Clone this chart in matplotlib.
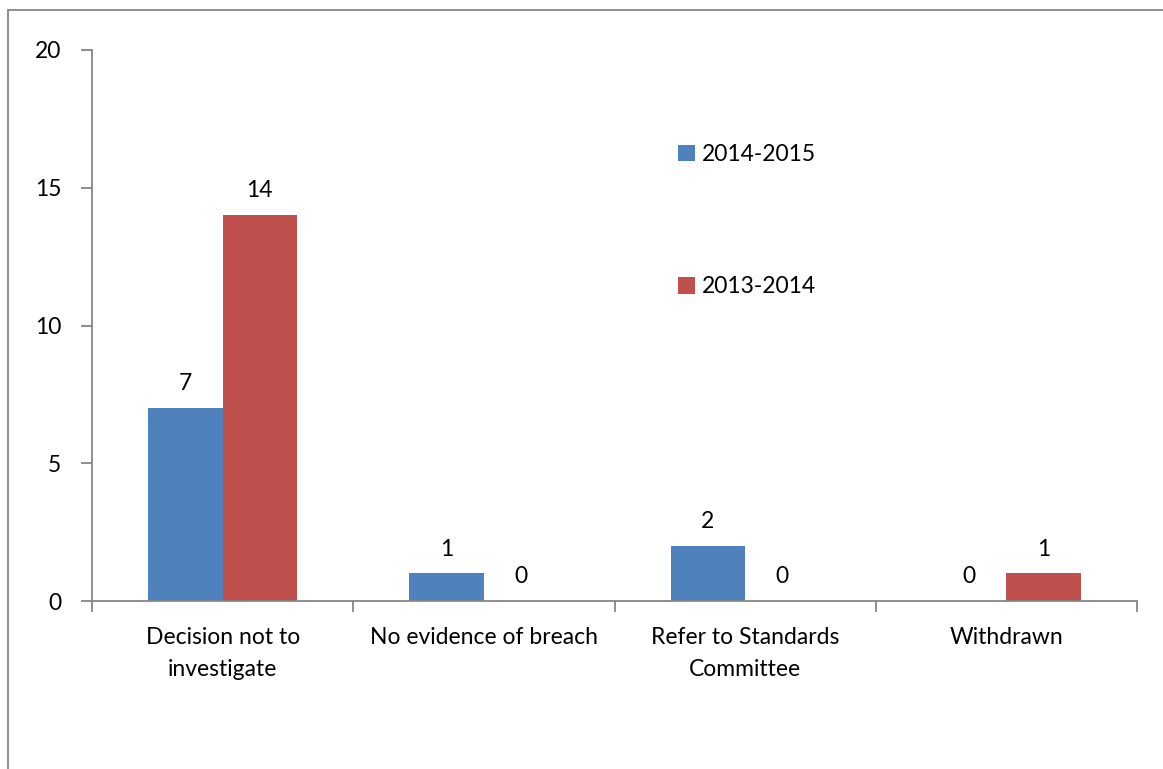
import matplotlib.pyplot as plt
import matplotlib.patches as mpatches
import numpy as np

categories = ["Decision not to\ninvestigate", "No evidence of breach",
              "Refer to Standards\nCommittee", "Withdrawn"]
series_names = ["2014-2015", "2013-2014"]
vals_2014_15 = [7, 1, 2, 0]
vals_2013_14 = [14, 0, 0, 1]
yticks = [0, 5, 10, 15, 20]

blue = "#4F81BD"
red = "#C0504D"
grey = "#868686"
fs = 16.5

plt.rcParams['font.family'] = ['Lato', 'DejaVu Sans']

fig = plt.figure(figsize=(11.63, 7.69), dpi=100)
ax = fig.add_axes([92/1163, 1 - 601/769, (1137 - 92)/1163, (601 - 50)/769])

# outer chart border (right/bottom fall outside the image)
fig.patches.append(mpatches.Rectangle((8/1163, -0.05), 1.2, 1 - 10/769 + 0.05,
                                      transform=fig.transFigure, fill=False,
                                      edgecolor=grey, linewidth=1.3))

x = np.arange(len(categories))
w = 0.285
b1 = ax.bar(x - w/2, vals_2014_15, w, color=blue, label=series_names[0])
b2 = ax.bar(x + w/2, vals_2013_14, w, color=red, label=series_names[1])
ax.bar_label(b1, padding=10, fontsize=fs)
ax.bar_label(b2, padding=10, fontsize=fs)

ax.set_xlim(-0.5, len(categories) - 0.5)
ax.set_ylim(0, 20)
ax.set_yticks(yticks)
ax.set_xticks(x)
ax.set_xticklabels(categories, fontsize=fs, linespacing=1.6)
ax.set_xticks(np.arange(len(categories) + 1) - 0.5, minor=True)
ax.tick_params(axis='x', which='major', length=0, pad=19)
ax.tick_params(axis='x', which='minor', length=8, width=1.3, color=grey)
ax.tick_params(axis='y', length=8, width=1.3, color=grey, labelsize=fs, pad=14)

for s in ["top", "right"]:
    ax.spines[s].set_visible(False)
for s in ["left", "bottom"]:
    ax.spines[s].set_color(grey)
    ax.spines[s].set_linewidth(1.3)

ax.legend(loc='upper left', bbox_to_anchor=(678/1163, 1 - 144/769),
          bbox_transform=fig.transFigure, frameon=False, fontsize=fs,
          handlelength=0.75, handleheight=0.75, handletextpad=0.3,
          labelspacing=4.85, borderpad=0, borderaxespad=0)

fig.savefig("out.png", dpi=100)
